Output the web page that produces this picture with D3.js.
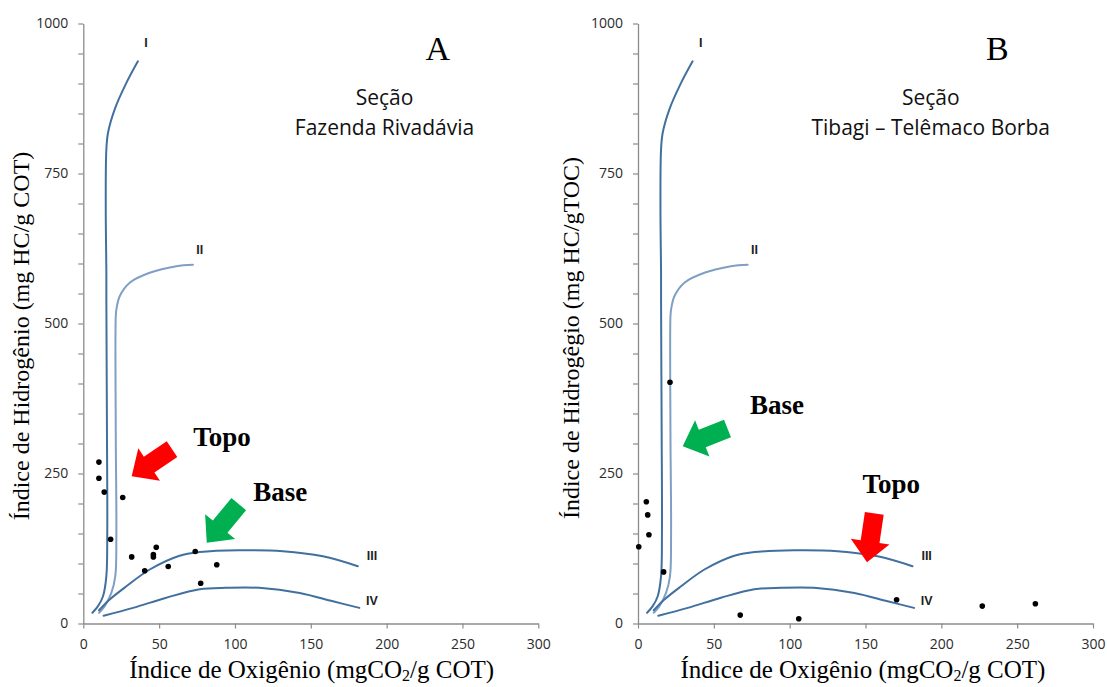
<!DOCTYPE html>
<html>
<head>
<meta charset="utf-8">
<script src="https://cdn.jsdelivr.net/npm/d3@7"></script>
<style>
  html, body { margin: 0; padding: 0; background: #fff; }
  svg { display: block; }
</style>
</head>
<body>
<svg id="chart" width="1107" height="687"></svg>
<script>
// ---------- DATA ----------
const xTicks = [0, 50, 100, 150, 200, 250, 300];
const yTicks = d3.range(0, 1001, 50);
const yLabelTicks = [0, 250, 500, 750, 1000];

// Kerogen type reference curves (OI, HI)
const curveI   = [[6,18],[9.7,29],[13,45.5],[15.2,79],[15.8,151],[15.6,318],[15.2,540],[15.2,585],[14.8,695],[15.2,790],[16.3,818],[20.7,857],[28.4,901],[36,937]];
const curveII  = [[10.4,18],[14.1,29],[18.5,51],[21.1,79],[21.8,151],[21.4,318],[21.4,512],[21.8,523],[24,545.5],[30.6,568],[43.8,584.5],[61.3,595.5],[72.3,598]];
const curveIII = [[10.4,22],[17.4,40],[28.4,62],[43.8,90],[63.5,113],[76.7,119],[103,122],[131.6,120.5],[158,112],[181,95.5]];
const curveIV  = [[13.4,13],[32.8,26],[54.7,43],[76.7,57],[94.3,59.5],[116,59.5],[142.7,51],[164.6,37],[182,26]];
const curveNames = ["I", "II", "III", "IV"];
const curveLabelPos = [[41.3,968],[76.8,622],[190.3,113],[190.3,37]];

// Samples, section A (Fazenda Rivadávia)
const oiA = [10.3, 10.3, 13.8, 26, 18, 31.9, 46.2, 46.2, 48.1, 56, 40.5, 73.8, 88, 77.4];
const hiA = [269, 242, 219, 210, 140.5, 111, 115, 111, 127, 95, 88, 120, 98, 67];
// Samples, section B (Tibagi – Telêmaco Borba)
const oiB = [21.1, 5.5, 6.4, 7.2, 0.5, 16.9, 67.4, 106, 170.5, 227, 262];
const hiB = [402, 203, 181, 148, 128, 86, 14, 8, 39.5, 29, 33];

const panels = [
  { letter: "A", x0: 83.3, x1: 538.3,
    yTitle: "Índice de Hidrogênio (mg HC/g COT)", yTitleX: 29, yTitleY: 336,
    xTitleX: 311.7,
    section: ["Seção", "Fazenda Rivadávia"], sectionOI: 198.6, letterOI: 233.8,
    oi: oiA, hi: hiA,
    arrows: [ {color: "#ff0000", tail: [58.5, 290.5], tip: [31.9, 245.5]},
              {color: "#00b050", tail: [102.5, 199], tip: [81.4, 134.5]} ],
    words: [ {t: "Topo", oi: 72.5, hi: 295.5}, {t: "Base", oi: 112, hi: 204} ] },
  { letter: "B", x0: 638, x1: 1093,
    yTitle: "Índice de Hidrogêgio (mg HC/gTOC)", yTitleX: 579, yTitleY: 338,
    xTitleX: 863,
    section: ["Seção", "Tibagi – Telêmaco Borba"], sectionOI: 193, letterOI: 237,
    oi: oiB, hi: hiB,
    arrows: [ {color: "#00b050", tail: [59, 325], tip: [29.5, 295.5]},
              {color: "#ff0000", tail: [155.8, 183.7], tip: [151, 102]} ],
    words: [ {t: "Base", oi: 73.8, hi: 350}, {t: "Topo", oi: 148, hi: 218} ] }
];

// ---------- DRAW ----------
const svg = d3.select("#chart");
svg.append("rect").attr("width", 1107).attr("height", 687).attr("fill", "#fff");

const y = d3.scaleLinear().domain([0, 1000]).range([623.5, 23.5]);
const curves = [curveI, curveII, curveIII, curveIV];
const curveColors = ["#41709f", "#7f9fc3", "#41709f", "#41709f"];
const axisColor = "#8c8c8c";

function arrowPoly(t, p) {
  const dx = p[0] - t[0], dy = p[1] - t[1];
  const L = Math.hypot(dx, dy);
  const ux = dx / L, uy = dy / L, nx = -uy, ny = ux;
  const sw = 9.5, hw = 19.5, hl = 21;
  const hx = p[0] - ux * hl, hy = p[1] - uy * hl;
  return [
    [t[0] + nx * sw, t[1] + ny * sw],
    [hx + nx * sw, hy + ny * sw],
    [hx + nx * hw, hy + ny * hw],
    p,
    [hx - nx * hw, hy - ny * hw],
    [hx - nx * sw, hy - ny * sw],
    [t[0] - nx * sw, t[1] - ny * sw]
  ];
}

panels.forEach(P => {
  const x = d3.scaleLinear().domain([0, 300]).range([P.x0, P.x1]);
  const g = svg.append("g");

  // axes
  const yAxis = d3.axisLeft(y).tickValues(yTicks)
    .tickFormat(d => yLabelTicks.includes(d) ? d : "")
    .tickSizeInner(5).tickSizeOuter(0).tickPadding(10);
  const ya = g.append("g").attr("transform", `translate(${P.x0},0)`).call(yAxis);
  const xAxis = d3.axisBottom(x).tickValues(xTicks)
    .tickSizeInner(5).tickSizeOuter(0).tickPadding(11);
  const xa = g.append("g").attr("transform", `translate(0,${y(0)})`).call(xAxis);
  [ya, xa].forEach(a => {
    a.select(".domain").attr("stroke", axisColor).attr("stroke-width", 1.3);
    a.selectAll(".tick line").attr("stroke", axisColor).attr("stroke-width", 1.2);
    a.selectAll(".tick text").attr("fill", "#2b2b2b")
      .style("font-family", "'Open Sans', sans-serif").style("font-size", "14px");
  });

  // curves
  const line = d3.line().x(d => x(d[0])).y(d => y(d[1])).curve(d3.curveCatmullRom.alpha(0.5));
  curves.forEach((c, i) => {
    g.append("path").attr("d", line(c)).attr("fill", "none")
      .attr("stroke", curveColors[i]).attr("stroke-width", 2).attr("stroke-linecap", "round");
    g.append("text").attr("x", x(curveLabelPos[i][0])).attr("y", y(curveLabelPos[i][1]))
      .attr("text-anchor", "middle").attr("dominant-baseline", "central")
      .attr("fill", "#222").style("font-family", "'Liberation Sans', Arial, sans-serif")
      .style("font-weight", "bold").style("font-size", "12.5px").text(curveNames[i]);
  });

  // sample points
  g.selectAll("circle.pt").data(P.oi.map((v, i) => [v, P.hi[i]])).enter()
    .append("circle").attr("class", "pt")
    .attr("cx", d => x(d[0])).attr("cy", d => y(d[1])).attr("r", 2.8).attr("fill", "#000");

  // arrows
  P.arrows.forEach(a => {
    const pts = arrowPoly([x(a.tail[0]), y(a.tail[1])], [x(a.tip[0]), y(a.tip[1])]);
    g.append("polygon").attr("points", pts.map(p => p.join(",")).join(" ")).attr("fill", a.color);
  });
  P.words.forEach(w => {
    g.append("text").attr("x", x(w.oi)).attr("y", y(w.hi))
      .style("font-family", "'Liberation Serif', 'Times New Roman', serif")
      .style("font-weight", "bold").style("font-size", "27px").attr("fill", "#000").text(w.t);
  });

  // section texts
  g.append("text").attr("x", x(P.letterOI)).attr("y", y(940)).attr("text-anchor", "middle")
    .style("font-family", "'Liberation Serif', 'Times New Roman', serif")
    .style("font-size", "34px").attr("fill", "#000").text(P.letter);
  P.section.forEach((s, i) => {
    g.append("text").attr("x", x(P.sectionOI)).attr("y", y(i === 0 ? 865 : 815))
      .attr("text-anchor", "middle")
      .style("font-family", "'Open Sans', sans-serif").style("font-size", "21px")
      .attr("fill", "#111").text(s);
  });

  // axis titles
  const xt = g.append("text").attr("x", P.xTitleX).attr("y", 678).attr("text-anchor", "middle")
    .style("font-family", "'Liberation Serif', 'Times New Roman', serif")
    .style("font-size", "25px").attr("fill", "#000");
  xt.append("tspan").text("Índice de Oxigênio (mgCO");
  xt.append("tspan").attr("dy", 3).style("font-size", "16px").text("2");
  xt.append("tspan").attr("dy", -3).text("/g COT)");

  g.append("text").attr("transform", `translate(${P.yTitleX},${P.yTitleY}) rotate(-90)`)
    .attr("text-anchor", "middle")
    .style("font-family", "'Liberation Serif', 'Times New Roman', serif")
    .style("font-size", "24px").attr("fill", "#000").text(P.yTitle);
});
</script>
</body>
</html>
